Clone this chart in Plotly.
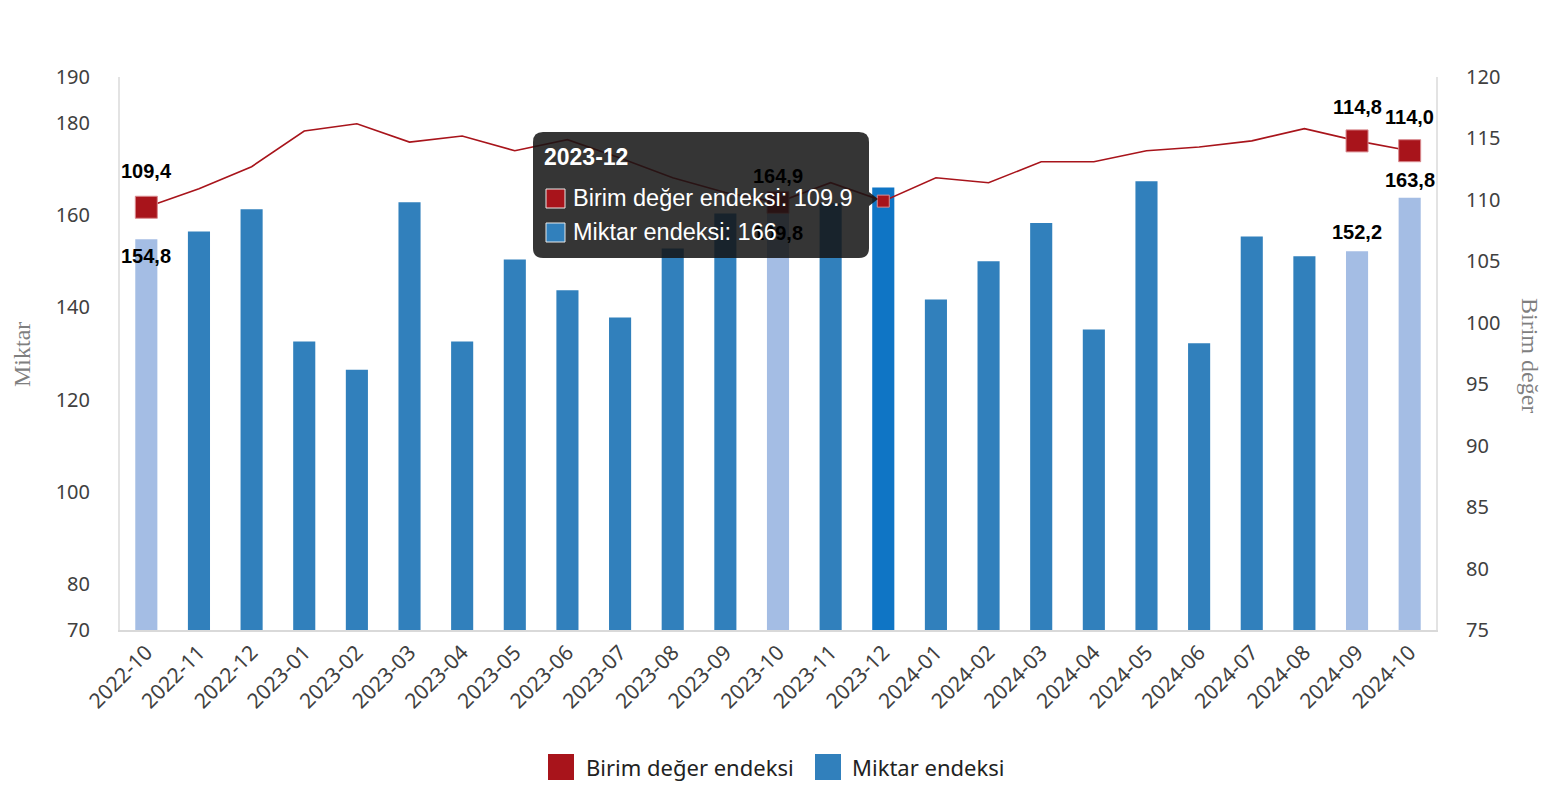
import plotly.graph_objects as go

# -----------------------------------------
# Data
# -----------------------------------------
months = [
    "2022-10", "2022-11", "2022-12", "2023-01", "2023-02", "2023-03", "2023-04",
    "2023-05", "2023-06", "2023-07", "2023-08", "2023-09", "2023-10", "2023-11",
    "2023-12", "2024-01", "2024-02", "2024-03", "2024-04", "2024-05", "2024-06",
    "2024-07", "2024-08", "2024-09", "2024-10",
]

miktar = [
    154.8, 156.5, 161.3, 132.6, 126.5, 162.8, 132.6,
    150.4, 143.7, 137.8, 152.8, 160.4, 164.9, 162.6,
    166.0, 141.7, 150.0, 158.3, 135.2, 167.4, 132.2,
    155.4, 151.1, 152.2, 163.8,
]

birim = [
    109.4, 110.9, 112.7, 115.6, 116.2, 114.7, 115.2,
    114.0, 114.9, 113.4, 111.8, 110.6, 109.8, 111.4,
    109.9, 111.8, 111.4, 113.1, 113.1, 114.0, 114.3,
    114.8, 115.8, 114.8, 114.0,
]

series_names = ["Birim değer endeksi", "Miktar endeksi"]

# months that carry value labels
labelled = ["2022-10", "2023-10", "2024-09", "2024-10"]
hover_month = "2023-12"

left_ticks = [70, 80, 100, 120, 140, 160, 180, 190]
right_ticks = [75, 80, 85, 90, 95, 100, 105, 110, 115, 120]

RED = "#a8141b"
BLUE = "#3180bc"
LIGHT_BLUE = "#a4bde4"
HOVER_BLUE = "#0f75c5"


def fmt(v):
    return f"{v:.1f}".replace(".", ",")


# -----------------------------------------
# Layout geometry (screen px; page has an 8px body margin)
# -----------------------------------------
OFF = 8
W, H = 1556, 800
PL, PR, PT, PB = 120, 1436, 77, 630      # plot box on screen
L, T = PL - OFF, PT - OFF
PW, PH = PR - PL, PB - PT
R = W - L - PW
B = H - T - PH


def px(x):
    return (x - PL) / PW


def py(y):
    return (PB - y) / PH


def note(x, y, text, font, **kw):
    d = dict(x=px(x), y=py(y), xref="paper", yref="paper", text=text,
             showarrow=False, font=font, xanchor="left", yanchor="middle")
    d.update(kw)
    return d


# -----------------------------------------
# Styles
# -----------------------------------------
bar_colors = []
marker_sizes = []
for m in months:
    if m in labelled:
        bar_colors.append(LIGHT_BLUE)
        marker_sizes.append(22)
    elif m == hover_month:
        bar_colors.append(HOVER_BLUE)
        marker_sizes.append(12)
    else:
        bar_colors.append(BLUE)
        marker_sizes.append(0)

# label offsets (px): (line label, bar label)
offsets = {
    "2022-10": (36, -17),
    "2023-10": (-31, 17),
    "2024-09": (34, 19),
    "2024-10": (34, 18),
}

fig = go.Figure()

fig.add_trace(go.Bar(
    x=months,
    y=miktar,
    name=series_names[1],
    marker=dict(color=bar_colors, line=dict(width=0)),
    width=0.42,
    showlegend=False,
    hoverinfo="skip",
))

fig.add_trace(go.Scatter(
    x=months,
    y=birim,
    name=series_names[0],
    yaxis="y2",
    mode="lines+markers",
    line=dict(color=RED, width=1.6),
    marker=dict(symbol="square", size=marker_sizes, color=RED, opacity=1,
                line=dict(color="#d98a8f", width=1)),
    showlegend=False,
    hoverinfo="skip",
))

annotations = []
label_font = dict(family="Liberation Sans, Arial", size=20, color="black")
for m in labelled:
    i = months.index(m)
    dl, db = offsets[m]
    annotations.append(dict(
        x=m, y=birim[i], xref="x", yref="y2", text="<b>" + fmt(birim[i]) + "</b>",
        showarrow=False, yshift=dl, font=label_font,
    ))
    annotations.append(dict(
        x=m, y=miktar[i], xref="x", yref="y", text="<b>" + fmt(miktar[i]) + "</b>",
        showarrow=False, yshift=db, font=label_font,
    ))

# axis titles
title_font = dict(family="Liberation Serif, Times New Roman", size=24, color="#7f7f7f")
annotations.append(note(22, 355, "Miktar", title_font, textangle=-90, xanchor="center"))
annotations.append(note(1530, 355, "Birim değer", title_font, textangle=90, xanchor="center"))

# -----------------------------------------
# Legend (drawn by hand to get the large squares)
# -----------------------------------------
legend_font = dict(family="Noto Sans, Open Sans", size=22, color="#222222")
shapes = []
for (sq_x, txt_x), name, col in zip([(548, 584), (815, 850)], series_names, [RED, BLUE]):
    shapes.append(dict(type="rect", xref="paper", yref="paper",
                       x0=px(sq_x), x1=px(sq_x + 26), y0=py(754), y1=py(780),
                       fillcolor=col, line=dict(width=0)))
    annotations.append(note(txt_x, 767, name, legend_font))

# -----------------------------------------
# Tooltip (frozen hover state at 2023-12)
# -----------------------------------------
x0, x1, y0, y1, r = 533, 869, 132, 258, 10
rx, ry = r / PW, r / PH
path = (
    f"M {px(x0) + rx},{py(y0)} L {px(x1) - rx},{py(y0)} "
    f"Q {px(x1)},{py(y0)} {px(x1)},{py(y0) - ry} "
    f"L {px(x1)},{py(y1) + ry} Q {px(x1)},{py(y1)} {px(x1) - rx},{py(y1)} "
    f"L {px(x0) + rx},{py(y1)} Q {px(x0)},{py(y1)} {px(x0)},{py(y1) + ry} "
    f"L {px(x0)},{py(y0) - ry} Q {px(x0)},{py(y0)} {px(x0) + rx},{py(y0)} Z"
)
tip_bg = "rgba(20,20,20,0.86)"
shapes += [
    dict(type="path", path=path, xref="paper", yref="paper", layer="above",
         fillcolor=tip_bg, line=dict(width=0)),
    dict(type="path", xref="paper", yref="paper", layer="above",
         path=f"M {px(869)},{py(192)} L {px(878)},{py(199)} L {px(869)},{py(206)} Z",
         fillcolor=tip_bg, line=dict(width=0)),
    dict(type="rect", xref="paper", yref="paper", layer="above",
         x0=px(546), x1=px(565), y0=py(189), y1=py(208),
         fillcolor=RED, line=dict(color="#e9e9e9", width=1)),
    dict(type="rect", xref="paper", yref="paper", layer="above",
         x0=px(546), x1=px(565), y0=py(223), y1=py(242),
         fillcolor=BLUE, line=dict(color="#e9e9e9", width=1)),
]

hi = months.index(hover_month)
tip_font = dict(family="Liberation Sans, Arial", size=23.5, color="white")
annotations += [
    note(542, 157, "<b>" + hover_month + "</b>",
         dict(family="Liberation Sans, Arial", size=23, color="white")),
    note(571, 198, f"{series_names[0]}: {birim[hi]:g}", tip_font),
    note(571, 232, f"{series_names[1]}: {miktar[hi]:g}", tip_font),
]

tick_font = dict(family="Noto Sans, Open Sans", size=20, color="#404040")

fig.update_layout(
    width=W,
    height=H,
    margin=dict(l=L, r=R, t=T, b=B),
    plot_bgcolor="white",
    paper_bgcolor="white",
    bargap=0.58,
    showlegend=False,
    annotations=annotations,
    shapes=shapes,
    xaxis=dict(
        type="category",
        range=[-0.5, len(months) - 0.5],
        tickangle=-45,
        tickfont=dict(family="Noto Sans, Open Sans", size=21, color="#404040"),
        showline=True, linecolor="#d9d9d9", linewidth=2,
        showgrid=False, ticks="",
    ),
    yaxis=dict(
        range=[70, 190],
        tickvals=left_ticks,
        tickfont=tick_font,
        showline=True, linecolor="#e3e3e3", linewidth=2,
        showgrid=False, zeroline=False,
        ticks="outside", ticklen=24, tickcolor="rgba(0,0,0,0)",
    ),
    yaxis2=dict(
        range=[75, 120],
        tickvals=right_ticks,
        tickfont=tick_font,
        overlaying="y", side="right",
        showline=True, linecolor="#e3e3e3", linewidth=2,
        showgrid=False, zeroline=False,
        ticks="outside", ticklen=24, tickcolor="rgba(0,0,0,0)",
    ),
)

fig.write_html("out.html")
